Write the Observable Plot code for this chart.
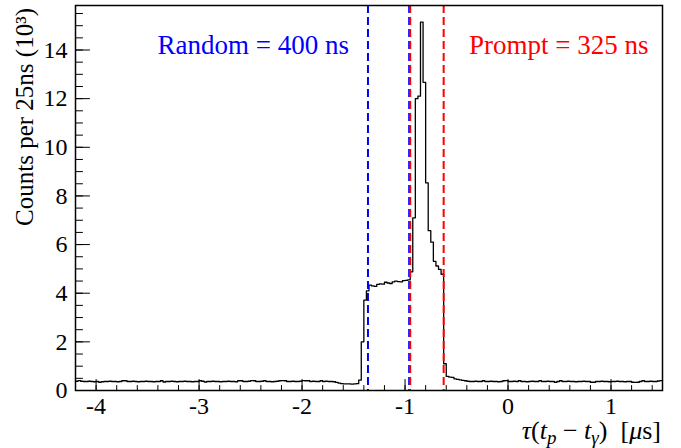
<!DOCTYPE html>
<html><head><meta charset="utf-8">
<script src="https://cdn.jsdelivr.net/npm/d3@7"></script>
<script src="https://cdn.jsdelivr.net/npm/@observablehq/plot@0.6"></script>
<style>html,body{margin:0;padding:0;background:#fff} svg{display:block} svg text, svg tspan{font-family:"Liberation Serif","DejaVu Serif",serif !important;}</style>
</head><body><div id="chart"></div>
<script>
// Histogram binning: 25 ns bins from -4.2 µs
const binStart = -4.2;
const binWidth = 0.025;

// Counts (10^3) per 25 ns bin
const countsLeft = [
 0.38,0.41,0.38,0.37,0.37,0.38,0.37,0.36,0.37,0.34,
 0.36,0.37,0.37,0.38,0.37,0.37,0.36,0.37,0.40,0.40,
 0.37,0.37,0.38,0.37,0.36,0.37,0.37,0.38,0.37,0.37,
 0.36,0.37,0.37,0.40,0.35,0.37,0.37,0.38,0.37,0.36,
 0.37,0.37,0.38,0.37,0.37,0.36,0.37,0.37,0.40,0.38,
 0.35,0.37,0.37,0.38,0.37,0.37,0.36,0.37,0.37,0.38,
 0.37,0.37,0.36,0.40,0.40,0.37,0.37,0.38,0.41,0.40,
 0.37,0.37,0.38,0.40,0.37,0.37,0.36,0.37,0.38,0.40,
 0.41,0.40,0.37,0.37,0.38,0.37,0.37,0.38,0.41,0.40,
 0.40,0.37,0.38,0.37,0.37,0.40,0.37,0.38,0.37,0.37
];
const countsCore = [
 0.36,0.33,0.30,0.28,0.27,0.27,0.27,0.26,0.27,0.28,
 0.43,2.0,3.72,4.10,4.33,
 4.30,4.28,4.36,4.38,4.37,4.45,4.42,4.40,4.47,4.50,4.48,4.47,4.52,4.53,
 4.55,4.88,7.1,12.0,12.1,15.15,12.67,8.54,6.57,6.10,5.31,5.12,4.98,4.78,
 1.1,0.58,0.55,0.54,0.48,0.46,0.44,0.42
];
const countsRight = [
 0.40,0.38,0.37,0.37,0.38,0.37,0.37,0.40,0.37,0.37,
 0.38,0.37,0.37,0.36,0.37,0.40,0.41,0.37,0.37,0.38,
 0.37,0.40,0.37,0.37,0.36,0.37,0.38,0.37,0.37,0.40,
 0.37,0.37,0.38,0.37,0.37,0.34,0.37,0.40,0.37,0.37,
 0.38,0.37,0.37,0.36,0.37,0.37,0.38,0.37,0.37,0.34,
 0.34,0.37,0.37,0.38,0.37,0.37,0.36,0.37,0.37,0.38,
 0.37,0.37,0.36,0.37,0.37,0.34,0.33,0.34,0.37,0.40,
 0.37,0.37,0.38,0.37,0.37,0.39,0.41
];

// Time windows (µs)
const randomWindow = [-1.36, -0.96];
const promptWindow = [-0.95, -0.625];

// Axes
const xDomain = [-4.2, 1.5];
const yDomain = [0, 15.83];
const xMajorTicks = [-4, -3, -2, -1, 0, 1];
const xMinorTicks = d3.range(-4.0, 1.41, 0.2).map(v => +v.toFixed(1));
const yMajorTicks = [0, 2, 4, 6, 8, 10, 12, 14];
const yMinorTicks = d3.range(0, 15.51, 0.5);

const randomLabel = "Random = 400 ns";
const promptLabel = "Prompt = 325 ns";
const yTitle = "Counts per 25ns (10³)";

// Build step points from the bins
const counts = countsLeft.concat(countsCore, countsRight);
const histPoints = counts.map((c, i) => ({x: binStart + i * binWidth, y: c}));
histPoints.push({x: binStart + counts.length * binWidth, y: counts[counts.length - 1]});

const tickShape = {draw(context, l) { context.moveTo(0, 0); context.lineTo(0, -l); }};
const serif = "'Liberation Serif', 'DejaVu Serif', serif";

const chart = Plot.plot({
  width: 681, height: 448,
  marginLeft: 75, marginRight: 19, marginTop: 5, marginBottom: 58,
  style: {fontFamily: serif, fontSize: "24px", background: "white", color: "black"},
  x: {domain: xDomain, label: null},
  y: {domain: yDomain, label: null},
  marks: [
    Plot.line(histPoints, {x: "x", y: "y", curve: "step-after", stroke: "black", strokeWidth: 1.3}),
    Plot.ruleX(randomWindow, {stroke: "#0000ff", strokeWidth: 2, strokeDasharray: "8,4"}),
    Plot.ruleX(promptWindow, {stroke: "#ff0000", strokeWidth: 2, strokeDasharray: "8,4"}),
    Plot.vector(xMinorTicks, {x: d => d, y: yDomain[0], length: 5, rotate: 0, anchor: "start", shape: tickShape, stroke: "black", strokeWidth: 1}),
    Plot.vector(xMajorTicks, {x: d => d, y: yDomain[0], length: 11, rotate: 0, anchor: "start", shape: tickShape, stroke: "black", strokeWidth: 1}),
    Plot.vector(yMinorTicks, {x: xDomain[0], y: d => d, length: 7, rotate: 90, anchor: "start", shape: tickShape, stroke: "black", strokeWidth: 1}),
    Plot.vector(yMajorTicks, {x: xDomain[0], y: d => d, length: 14, rotate: 90, anchor: "start", shape: tickShape, stroke: "black", strokeWidth: 1}),
    Plot.axisX({ticks: xMajorTicks, tickSize: 0, tickPadding: 6, tickFormat: d => String(d), label: null, fontSize: 24, fontFamily: serif}),
    Plot.axisY({ticks: yMajorTicks, tickSize: 0, tickPadding: 8, tickFormat: d => String(d), label: null, fontSize: 24, fontFamily: serif}),
    Plot.text([randomLabel], {frameAnchor: "top-left", textAnchor: "start", dx: 82, dy: 29, fill: "#0000ff", fontSize: 27, fontFamily: serif}),
    Plot.text([promptLabel], {frameAnchor: "top-right", textAnchor: "end", dx: -14, dy: 29, fill: "#ff0000", fontSize: 27, fontFamily: serif}),
    Plot.frame({stroke: "black", strokeWidth: 1.5})
  ]
});

const svg = d3.select(chart);
svg.attr("font-family", serif);
// y-axis title (rotated, aligned at the top end like ROOT)
svg.append("text")
  .attr("transform", "translate(33,8) rotate(-90)")
  .attr("text-anchor", "end")
  .attr("font-family", serif)
  .attr("font-size", 25)
  .attr("fill", "black")
  .text(yTitle);

// x-axis title with subscripts
const xt = svg.append("text")
  .attr("x", 661).attr("y", 439)
  .attr("text-anchor", "end")
  .attr("font-family", serif)
  .attr("font-size", 26)
  .attr("fill", "black");
xt.append("tspan").attr("font-style", "italic").text("τ");
xt.append("tspan").text("(");
xt.append("tspan").attr("font-style", "italic").text("t");
xt.append("tspan").attr("font-style", "italic").attr("font-size", 19).attr("dy", 5).text("p");
xt.append("tspan").attr("dy", -5).text(" − ");
xt.append("tspan").attr("font-style", "italic").text("t");
xt.append("tspan").attr("font-style", "italic").attr("font-size", 19).attr("dy", 5).text("γ");
xt.append("tspan").attr("dy", -5).text(")  [");
xt.append("tspan").attr("font-style", "italic").text("μ");
xt.append("tspan").text("s]");

document.getElementById("chart").appendChild(chart);
</script>
</body></html>
